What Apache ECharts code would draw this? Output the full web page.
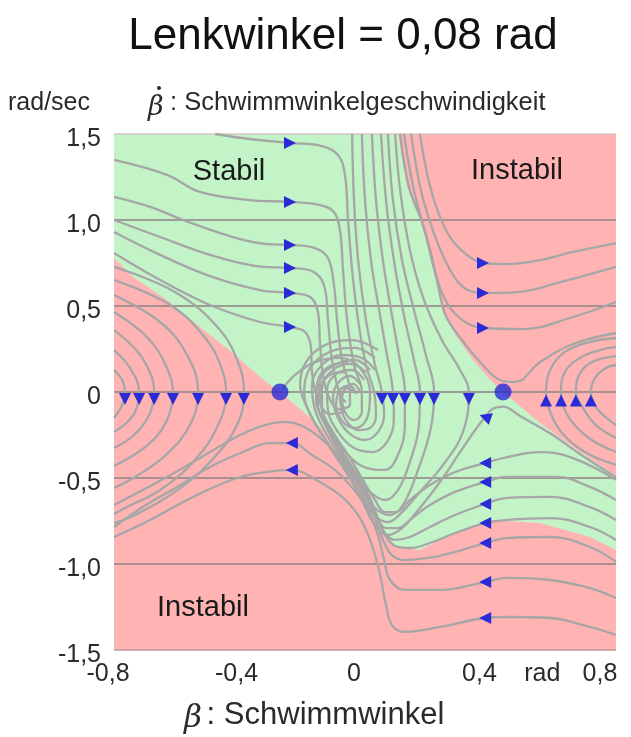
<!DOCTYPE html>
<html><head><meta charset="utf-8">
<script src="https://cdn.jsdelivr.net/npm/echarts@6/dist/echarts.min.js"></script>
<style>html,body{margin:0;padding:0;background:#fff}#c{width:631px;height:737px}</style>
</head><body><div id="c"></div>
<script>
// ---------- tick labels ----------
const xTickValues = [-0.8, -0.4, 0, 0.4, 0.6, 0.8];
const xTickTexts  = ['-0,8', '-0,4', '0', '0,4', 'rad', '0,8'];
const yTickValues = [-1.5, -1, -0.5, 0, 0.5, 1, 1.5];
const yTickTexts  = ['-1,5', '-1,0', '-0,5', '0', '0,5', '1,0', '1,5'];

// ---------- regions ----------
const plotCorners = [[-0.8,1.5],[0.8,1.5],[0.8,-1.5],[-0.8,-1.5]];
const stableRegion = [[-0.8,1.5],[0.105,1.5],[0.134,1.192],[0.175,1.0],[0.207,0.808],[0.230,0.610],[0.249,0.459],[0.293,0.320],[0.344,0.186],[0.399,0.070],[0.440,0],[0.558,-0.180],[0.663,-0.320],[0.8,-0.488],[0.8,-0.919],[0.717,-0.843],[0.558,-0.762],[0.399,-0.744],[0.271,-0.831],[0.175,-0.919],[0.102,-0.901],[0.057,-0.820],[0.038,-0.727],[0.006,-0.570],[-0.038,-0.436],[-0.089,-0.297],[-0.166,-0.163],[-0.271,0],[-0.335,0.087],[-0.421,0.227],[-0.526,0.378],[-0.631,0.535],[-0.739,0.669],[-0.8,0.779]];

// ---------- streamlines ----------
const streamUL1 = [[-0.478,1.5],[-0.367,1.471],[-0.239,1.448],[-0.137,1.430],[-0.086,1.378],[-0.064,1.262],[-0.054,1.0],[-0.041,0.709],[-0.022,0.419],[0.003,0.157],[0.029,0],[0.035,-0.134],[0.016,-0.209],[-0.022,-0.221],[-0.061,-0.163],[-0.077,-0.070],[-0.067,0.012],[-0.038,0.047],[-0.016,0]];
const streamUL2 = [[-0.8,1.349],[-0.631,1.262],[-0.526,1.163],[-0.367,1.116],[-0.239,1.105],[-0.143,1.087],[-0.099,1.047],[-0.080,0.942],[-0.070,0.709],[-0.057,0.419],[-0.035,0.157],[-0.010,0],[-0.010,-0.116],[-0.035,-0.163],[-0.064,-0.116],[-0.073,-0.035],[-0.057,0.023],[-0.035,0]];
const streamUL3 = [[-0.8,1.134],[-0.685,1.076],[-0.580,1.0],[-0.421,0.901],[-0.312,0.860],[-0.239,0.855],[-0.159,0.837],[-0.118,0.779],[-0.099,0.622],[-0.089,0.419],[-0.073,0.186],[-0.048,0],[-0.048,-0.076],[-0.067,-0.093],[-0.080,-0.035],[-0.064,0.012]];
const streamUL4 = [[-0.8,1.0],[-0.653,0.901],[-0.494,0.797],[-0.351,0.733],[-0.239,0.721],[-0.169,0.703],[-0.131,0.622],[-0.118,0.419],[-0.105,0.186],[-0.080,-0.017],[-0.061,-0.058]];
const streamUL5 = [[-0.8,0.930],[-0.653,0.797],[-0.494,0.674],[-0.335,0.593],[-0.239,0.576],[-0.175,0.552],[-0.150,0.465],[-0.143,0.273],[-0.131,0.070],[-0.102,-0.076],[-0.070,-0.105]];
const streamUL6 = [[-0.8,0.808],[-0.653,0.651],[-0.494,0.506],[-0.335,0.407],[-0.239,0.378],[-0.191,0.349],[-0.172,0.256],[-0.169,0.116],[-0.150,-0.035],[-0.112,-0.128],[-0.064,-0.116]];
const streamT1 = [[-0.041,1.5],[-0.035,1.116],[-0.022,0.767],[0.003,0.419],[0.032,0.157],[0.054,0],[0.061,-0.134],[0.041,-0.233],[0,-0.279],[-0.048,-0.244],[-0.086,-0.151],[-0.102,-0.035],[-0.086,0.052],[-0.048,0.093],[-0.016,0.047]];
const streamT2 = [[-0.010,1.5],[0,1.116],[0.019,0.767],[0.045,0.477],[0.070,0.215],[0.089,0],[0.092,-0.163],[0.070,-0.291],[0.022,-0.349],[-0.035,-0.326],[-0.086,-0.233],[-0.118,-0.105],[-0.121,0.012],[-0.092,0.105],[-0.041,0.128],[-0.003,0.070]];
const streamT3 = [[0.022,1.5],[0.035,1.116],[0.057,0.767],[0.083,0.477],[0.108,0.215],[0.127,0],[0.127,-0.192],[0.105,-0.366],[0.064,-0.453],[0.006,-0.442],[-0.054,-0.366],[-0.102,-0.250],[-0.137,-0.105],[-0.137,0.023],[-0.102,0.128],[-0.048,0.163],[0.003,0.116]];
const streamB1 = [[0.051,1.5],[0.067,1.116],[0.092,0.767],[0.124,0.448],[0.156,0.186],[0.175,0],[0.172,-0.192],[0.143,-0.407],[0.105,-0.570],[0.064,-0.628],[0.016,-0.581],[-0.032,-0.465],[-0.080,-0.337],[-0.121,-0.209],[-0.150,-0.076],[-0.143,0.070],[-0.096,0.157],[-0.032,0.186],[0.016,0.128]];
const streamB2 = [[0.073,1.5],[0.089,1.116],[0.118,0.767],[0.156,0.477],[0.194,0.215],[0.220,0],[0.210,-0.209],[0.169,-0.453],[0.121,-0.657],[0.080,-0.715],[0.032,-0.674],[-0.022,-0.523],[-0.073,-0.384],[-0.121,-0.250],[-0.159,-0.105],[-0.169,0.041],[-0.137,0.157],[-0.073,0.215],[-0.010,0.198],[0.032,0.128]];
const streamB3 = [[0.096,1.5],[0.112,1.174],[0.143,0.826],[0.188,0.535],[0.245,0.302],[0.303,0.128],[0.331,0],[0.312,-0.233],[0.249,-0.424],[0.175,-0.581],[0.118,-0.698],[0.073,-0.756],[0.029,-0.715],[-0.016,-0.581],[-0.064,-0.442],[-0.118,-0.297],[-0.169,-0.151],[-0.194,0],[-0.175,0.140],[-0.112,0.233],[-0.032,0.256],[0.032,0.198]];
const streamR1 = [[0.175,1.5],[0.201,1.244],[0.233,1.047],[0.271,0.901],[0.322,0.802],[0.376,0.750],[0.453,0.744],[0.558,0.767],[0.663,0.814],[0.8,0.866]];
const streamR2 = [[0.147,1.5],[0.178,1.174],[0.214,0.953],[0.252,0.779],[0.296,0.640],[0.335,0.587],[0.376,0.576],[0.485,0.581],[0.613,0.634],[0.8,0.727]];
const streamR3 = [[0.124,1.5],[0.156,1.174],[0.194,0.913],[0.226,0.680],[0.265,0.506],[0.319,0.407],[0.376,0.372],[0.504,0.366],[0.663,0.436],[0.8,0.523]];
const streamR4 = [[0.112,1.5],[0.140,1.192],[0.182,0.988],[0.214,0.779],[0.236,0.593],[0.258,0.442],[0.309,0.302],[0.367,0.174],[0.430,0.070],[0.478,0.058],[0.558,0.174],[0.663,0.279],[0.8,0.343]];
const streamU1 = [[0.8,-0.424],[0.701,-0.349],[0.628,-0.238],[0.590,-0.116],[0.577,0],[0.590,0.128],[0.637,0.233],[0.717,0.291],[0.8,0.314]];
const streamU2 = [[0.8,-0.349],[0.723,-0.279],[0.660,-0.174],[0.628,-0.058],[0.625,0],[0.637,0.116],[0.685,0.198],[0.749,0.244],[0.8,0.262]];
const streamU3 = [[0.8,-0.267],[0.736,-0.192],[0.695,-0.093],[0.672,0],[0.682,0.099],[0.723,0.174],[0.8,0.209]];
const streamU4 = [[0.8,-0.192],[0.749,-0.116],[0.723,-0.047],[0.720,0],[0.733,0.081],[0.768,0.140],[0.8,0.157]];
const streamG1 = [[0.8,-0.495],[0.685,-0.36],[0.590,-0.24],[0.494,-0.14],[0.440,-0.085],[0.405,-0.10],[0.383,-0.145],[0.351,-0.221],[0.297,-0.366],[0.239,-0.523],[0.175,-0.674],[0.118,-0.791],[0.073,-0.831],[0.029,-0.767],[-0.010,-0.628],[-0.054,-0.483],[-0.102,-0.349],[-0.150,-0.209],[-0.188,-0.076],[-0.207,0.041],[-0.188,0.174],[-0.127,0.273],[-0.041,0.302],[0.041,0.244]];
const streamG2 = [[0.8,-0.51],[0.663,-0.384],[0.558,-0.349],[0.453,-0.378],[0.383,-0.413],[0.287,-0.465],[0.207,-0.541],[0.143,-0.628],[0.099,-0.698],[0.064,-0.698],[0.032,-0.628],[-0.010,-0.5],[-0.054,-0.366],[-0.102,-0.233],[-0.137,-0.105],[-0.143,0.012],[-0.112,0.099],[-0.064,0.116]];
const streamG3 = [[0.8,-0.628],[0.717,-0.552],[0.613,-0.494],[0.453,-0.494],[0.383,-0.523],[0.287,-0.581],[0.207,-0.657],[0.150,-0.733],[0.105,-0.791],[0.067,-0.791],[0.035,-0.715],[-0.003,-0.581],[-0.048,-0.442],[-0.092,-0.308],[-0.131,-0.174],[-0.156,-0.047],[-0.150,0.070],[-0.112,0.151],[-0.054,0.174]];
const streamG4 = [[0.8,-0.744],[0.717,-0.669],[0.590,-0.610],[0.453,-0.616],[0.383,-0.651],[0.287,-0.715],[0.207,-0.785],[0.143,-0.843],[0.096,-0.860],[0.061,-0.814],[0.035,-0.715],[0.003,-0.581],[-0.038,-0.453],[-0.080,-0.326],[-0.118,-0.192]];
const streamG5 = [[0.8,-0.860],[0.717,-0.785],[0.590,-0.733],[0.453,-0.744],[0.383,-0.762],[0.287,-0.820],[0.207,-0.878],[0.143,-0.907],[0.096,-0.895],[0.064,-0.831],[0.041,-0.733],[0.016,-0.616],[-0.022,-0.488],[-0.067,-0.360],[-0.112,-0.233]];
const streamL0 = [[0.8,-0.988],[0.717,-0.901],[0.590,-0.843],[0.453,-0.849],[0.383,-0.878],[0.287,-0.930],[0.201,-0.965],[0.127,-0.977],[0.086,-0.948],[0.057,-0.860],[0.032,-0.733],[-0.003,-0.593],[-0.048,-0.465],[-0.096,-0.349],[-0.150,-0.256],[-0.207,-0.192],[-0.255,-0.174],[-0.319,-0.192],[-0.398,-0.250],[-0.510,-0.366],[-0.637,-0.5],[-0.8,-0.657]];
const streamL1 = [[0.8,-1.198],[0.717,-1.140],[0.590,-1.093],[0.453,-1.081],[0.383,-1.105],[0.239,-1.151],[0.127,-1.151],[0.080,-1.093],[0.061,-0.977],[0.041,-0.831],[0.010,-0.686],[-0.035,-0.570],[-0.096,-0.453],[-0.169,-0.366],[-0.233,-0.297],[-0.303,-0.297],[-0.389,-0.349],[-0.494,-0.436],[-0.599,-0.552],[-0.708,-0.669],[-0.8,-0.785]];
const streamL2 = [[0.8,-1.413],[0.717,-1.366],[0.590,-1.314],[0.453,-1.308],[0.383,-1.314],[0.239,-1.366],[0.127,-1.395],[0.086,-1.355],[0.067,-1.238],[0.048,-1.064],[0.022,-0.890],[-0.016,-0.733],[-0.073,-0.610],[-0.150,-0.517],[-0.233,-0.453],[-0.312,-0.465],[-0.408,-0.5],[-0.548,-0.610],[-0.685,-0.744],[-0.8,-0.843]];
const streamRL1 = [[-0.8,0.128],[-0.774,0.070],[-0.765,0],[-0.774,-0.076],[-0.8,-0.151]];
const streamRL2 = [[-0.8,0.244],[-0.749,0.140],[-0.720,0],[-0.733,-0.116],[-0.768,-0.192],[-0.8,-0.233]];
const streamRL3 = [[-0.8,0.360],[-0.724,0.233],[-0.682,0.099],[-0.672,0],[-0.688,-0.134],[-0.736,-0.250],[-0.8,-0.326]];
const streamRL4 = [[-0.8,0.465],[-0.692,0.314],[-0.631,0.140],[-0.612,0],[-0.631,-0.163],[-0.692,-0.308],[-0.8,-0.430]];
const streamRL5 = [[-0.8,0.564],[-0.653,0.407],[-0.567,0.215],[-0.532,0],[-0.558,-0.192],[-0.634,-0.366],[-0.733,-0.494],[-0.8,-0.558]];
const streamRL6 = [[-0.8,0.651],[-0.621,0.506],[-0.504,0.302],[-0.453,0.116],[-0.443,0],[-0.468,-0.192],[-0.542,-0.395],[-0.653,-0.570],[-0.765,-0.674],[-0.8,-0.709]];
const streamRL7 = [[-0.8,0.727],[-0.606,0.581],[-0.462,0.360],[-0.398,0.140],[-0.386,0],[-0.408,-0.192],[-0.488,-0.395],[-0.606,-0.581],[-0.733,-0.715],[-0.8,-0.762]];
const streamSP1 = [[-0.265,0.012],[-0.223,0.099],[-0.159,0.174],[-0.080,0.198],[-0.016,0.140],[0.016,0],[0.010,-0.134],[-0.029,-0.209],[-0.070,-0.174],[-0.092,-0.076],[-0.080,0.012],[-0.048,0.035],[-0.029,-0.012]];

const streamlines = [streamUL1, streamUL2, streamUL3, streamUL4, streamUL5, streamUL6,
  streamT1, streamT2, streamT3, streamB1, streamB2, streamB3,
  streamR1, streamR2, streamR3, streamR4, streamU1, streamU2, streamU3, streamU4,
  streamG1, streamG2, streamG3, streamG4, streamG5, streamL0, streamL1, streamL2,
  streamRL1, streamRL2, streamRL3, streamRL4, streamRL5, streamRL6, streamRL7, streamSP1];

// ---------- markers ----------
const saddlePoints = [[-0.271, 0], [0.440, 0]];
const arrowsRight = [[-0.239,1.448],[-0.239,1.105],[-0.239,0.855],[-0.239,0.721],[-0.239,0.576],[-0.239,0.378],[0.376,0.750],[0.376,0.576],[0.376,0.372]];
const arrowsLeft = [[-0.233,-0.297],[-0.233,-0.453],[0.383,-0.413],[0.383,-0.523],[0.383,-0.651],[0.383,-0.762],[0.383,-0.878],[0.383,-1.105],[0.383,-1.314]];
const arrowsDown = [[-0.765,-0.04],[-0.720,-0.04],[-0.672,-0.04],[-0.612,-0.04],[-0.532,-0.04],[-0.443,-0.04],[-0.386,-0.04],[0.054,-0.04],[0.089,-0.04],[0.127,-0.04],[0.175,-0.04],[0.220,-0.04],[0.331,-0.04]];
const arrowsUp = [[0.577,-0.05],[0.625,-0.05],[0.672,-0.05],[0.720,-0.05]];
const arrowsDiag = [[0.383,-0.145]];

// ---------- chart ----------
const FONT = '"Liberation Sans", Arial, sans-serif';
const BLUE = '#2a2ad6';
const chart = echarts.init(document.getElementById('c'), null, {renderer: 'canvas'});

function polygonSeries(points, color, z) {
  return {
    type: 'custom', coordinateSystem: 'cartesian2d', z: z, silent: true,
    data: [[0, 0]], clip: true,
    renderItem: function (params, api) {
      return { type: 'polygon', shape: { points: points.map(function (p) { return api.coord(p); }) }, style: { fill: color } };
    }
  };
}
function arrowSeries(data, rotate) {
  return { type: 'scatter', data: data, symbol: 'triangle', symbolSize: [12, 12], symbolRotate: rotate,
    itemStyle: { color: BLUE, opacity: 1 }, z: 5, silent: true };
}
function findIdx(list, v) {
  for (let i = 0; i < list.length; i++) if (Math.abs(list[i] - v) < 1e-6) return i;
  return -1;
}
const xShift = [12, 6, 22, 22, 22, 32];
const xRich = {};
xShift.forEach(function (p, i) { xRich['s' + i] = { fontSize: 25, color: '#2a2a2a', fontFamily: FONT, padding: [0, p, 0, 0] }; });
const yRich = { a: { fontSize: 25, color: '#2a2a2a', fontFamily: FONT, padding: [10, 0, 0, 0] } };

const series = [polygonSeries(plotCorners, '#ffb3b3', -2), polygonSeries(stableRegion, '#c2f4c8', -1)];
streamlines.forEach(function (s) {
  series.push({ type: 'line', data: s, smooth: 0.4, symbol: 'none', silent: true, z: 3,
    lineStyle: { color: '#a6a6a6', width: 2.3 } });
});
series.push(arrowSeries(arrowsRight, -90));
series.push(arrowSeries(arrowsLeft, 90));
series.push(arrowSeries(arrowsDown, 180));
series.push(arrowSeries(arrowsUp, 0));
series.push(arrowSeries(arrowsDiag, 70));
series.push({ type: 'scatter', data: saddlePoints, symbol: 'circle', symbolSize: 17, itemStyle: { color: BLUE }, z: 6, silent: true });

chart.setOption({
  animation: false,
  backgroundColor: '#ffffff',
  grid: { left: 114, right: 15, top: 134, bottom: 87, containLabel: false },
  xAxis: {
    type: 'value', min: -0.8, max: 0.8, interval: 0.2,
    axisLine: { show: false }, axisTick: { show: false }, splitLine: { show: false },
    axisLabel: {
      margin: 12, fontSize: 25, color: '#2a2a2a', fontFamily: FONT, rich: xRich,
      showMinLabel: true, showMaxLabel: true,
      formatter: function (v) { const i = findIdx(xTickValues, v); return i < 0 ? '' : '{s' + i + '|' + xTickTexts[i] + '}'; }
    }
  },
  yAxis: {
    type: 'value', min: -1.5, max: 1.5, interval: 0.5,
    axisLine: { show: false }, axisTick: { show: false },
    splitLine: { show: true, showMinLine: true, showMaxLine: true,
      lineStyle: { width: 1.6, color: ['#b89a9a', '#8c8282', '#8c8282', '#8c8282', '#8c8282', '#8c8282', '#d6c4c4'] } },
    axisLabel: {
      margin: 13, fontSize: 25, color: '#2a2a2a', fontFamily: FONT, rich: yRich,
      formatter: function (v) { const i = findIdx(yTickValues, v); return i < 0 ? '' : '{a|' + yTickTexts[i] + '}'; }
    }
  },
  graphic: [
    { type: 'text', style: { text: 'Lenkwinkel = 0,08 rad', x: 343, y: 37, textAlign: 'center', textVerticalAlign: 'middle', verticalAlign: 'middle', font: '44px ' + FONT, fill: '#111' } },
    { type: 'text', style: { text: 'rad/sec', x: 8, y: 103, textAlign: 'left', textVerticalAlign: 'middle', verticalAlign: 'middle', font: '25px ' + FONT, fill: '#2a2a2a' } },
    { type: 'text', style: { text: '\u03B2', x: 148, y: 108, textAlign: 'left', textVerticalAlign: 'middle', verticalAlign: 'middle', font: 'italic 27px "DejaVu Serif", serif', fill: '#2a2a2a' } },
    { type: 'circle', shape: { cx: 159, cy: 88, r: 2 }, style: { fill: '#2a2a2a' } },
    { type: 'text', style: { text: ': Schwimmwinkelgeschwindigkeit', x: 170, y: 103, textAlign: 'left', textVerticalAlign: 'middle', verticalAlign: 'middle', font: '25.5px ' + FONT, fill: '#2a2a2a' } },
    { type: 'text', style: { text: 'Stabil', x: 229, y: 172, textAlign: 'center', textVerticalAlign: 'middle', verticalAlign: 'middle', font: '29px ' + FONT, fill: '#1a1a1a' }, z: 10 },
    { type: 'text', style: { text: 'Instabil', x: 517, y: 171, textAlign: 'center', textVerticalAlign: 'middle', verticalAlign: 'middle', font: '29px ' + FONT, fill: '#1a1a1a' }, z: 10 },
    { type: 'text', style: { text: 'Instabil', x: 203, y: 608, textAlign: 'center', textVerticalAlign: 'middle', verticalAlign: 'middle', font: '29px ' + FONT, fill: '#1a1a1a' }, z: 10 },
    { type: 'text', style: { text: '\u03B2', x: 184, y: 719, textAlign: 'left', textVerticalAlign: 'middle', verticalAlign: 'middle', font: 'italic 31px "DejaVu Serif", serif', fill: '#2a2a2a' } },
    { type: 'text', style: { text: ' : Schwimmwinkel', x: 198, y: 715, textAlign: 'left', textVerticalAlign: 'middle', verticalAlign: 'middle', font: '31px ' + FONT, fill: '#2a2a2a' } }
  ],
  series: series
});
</script></body></html>
